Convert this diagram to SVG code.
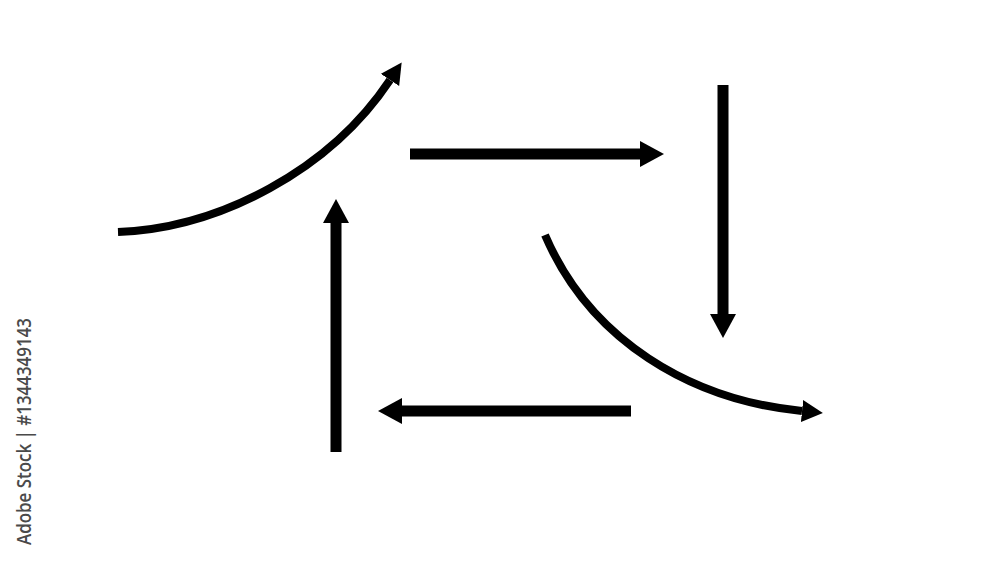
<svg xmlns="http://www.w3.org/2000/svg" width="1000" height="562" viewBox="0 0 1000 562">
  <style>
    .shaft { fill: none; stroke: #000; stroke-width: 11; stroke-linecap: butt; }
    .curve { fill: none; stroke: #000; stroke-width: 8; stroke-linecap: butt; }
    .mark { font-family: "Open Sans", "Liberation Sans", sans-serif; font-size: 19px; font-weight: 600; fill: #4a4a4a; }
  </style>
  <defs>
    <marker id="headBig" markerUnits="userSpaceOnUse" markerWidth="26" markerHeight="28" refX="0" refY="13" orient="auto" viewBox="0 0 26 28">
      <path d="M0,0 L24,13 L0,26 Z" fill="#000"/>
    </marker>
    <marker id="headSmall" markerUnits="userSpaceOnUse" markerWidth="22" markerHeight="24" refX="0" refY="11" orient="auto" viewBox="0 0 22 24">
      <path d="M0,0 L21,11 L0,22 Z" fill="#000"/>
    </marker>
  </defs>
  <rect width="1000" height="562" fill="#fff"/>
  <g id="connectors">
    <g id="curve-up">
      <path class="curve" d="M118,232 C220,228 330,170 390,80" marker-end="url(#headSmall)"/>
    </g>
    <g id="arrow-right">
      <path class="shaft" d="M410,154 L640,154" marker-end="url(#headBig)"/>
    </g>
    <g id="arrow-down">
      <path class="shaft" d="M723,85 L723,314" marker-end="url(#headBig)"/>
    </g>
    <g id="curve-down">
      <path class="curve" d="M545,235 C590,340 690,400 802,411" marker-end="url(#headSmall)"/>
    </g>
    <g id="arrow-left">
      <path class="shaft" d="M631,411 L402,411" marker-end="url(#headBig)"/>
    </g>
    <g id="arrow-up">
      <path class="shaft" d="M336,452 L336,223" marker-end="url(#headBig)"/>
    </g>
  </g>
  <text class="mark" transform="translate(31,545) rotate(-90)" x="0" y="0" textLength="227" lengthAdjust="spacingAndGlyphs">Adobe Stock | #1344349143</text>
</svg>
